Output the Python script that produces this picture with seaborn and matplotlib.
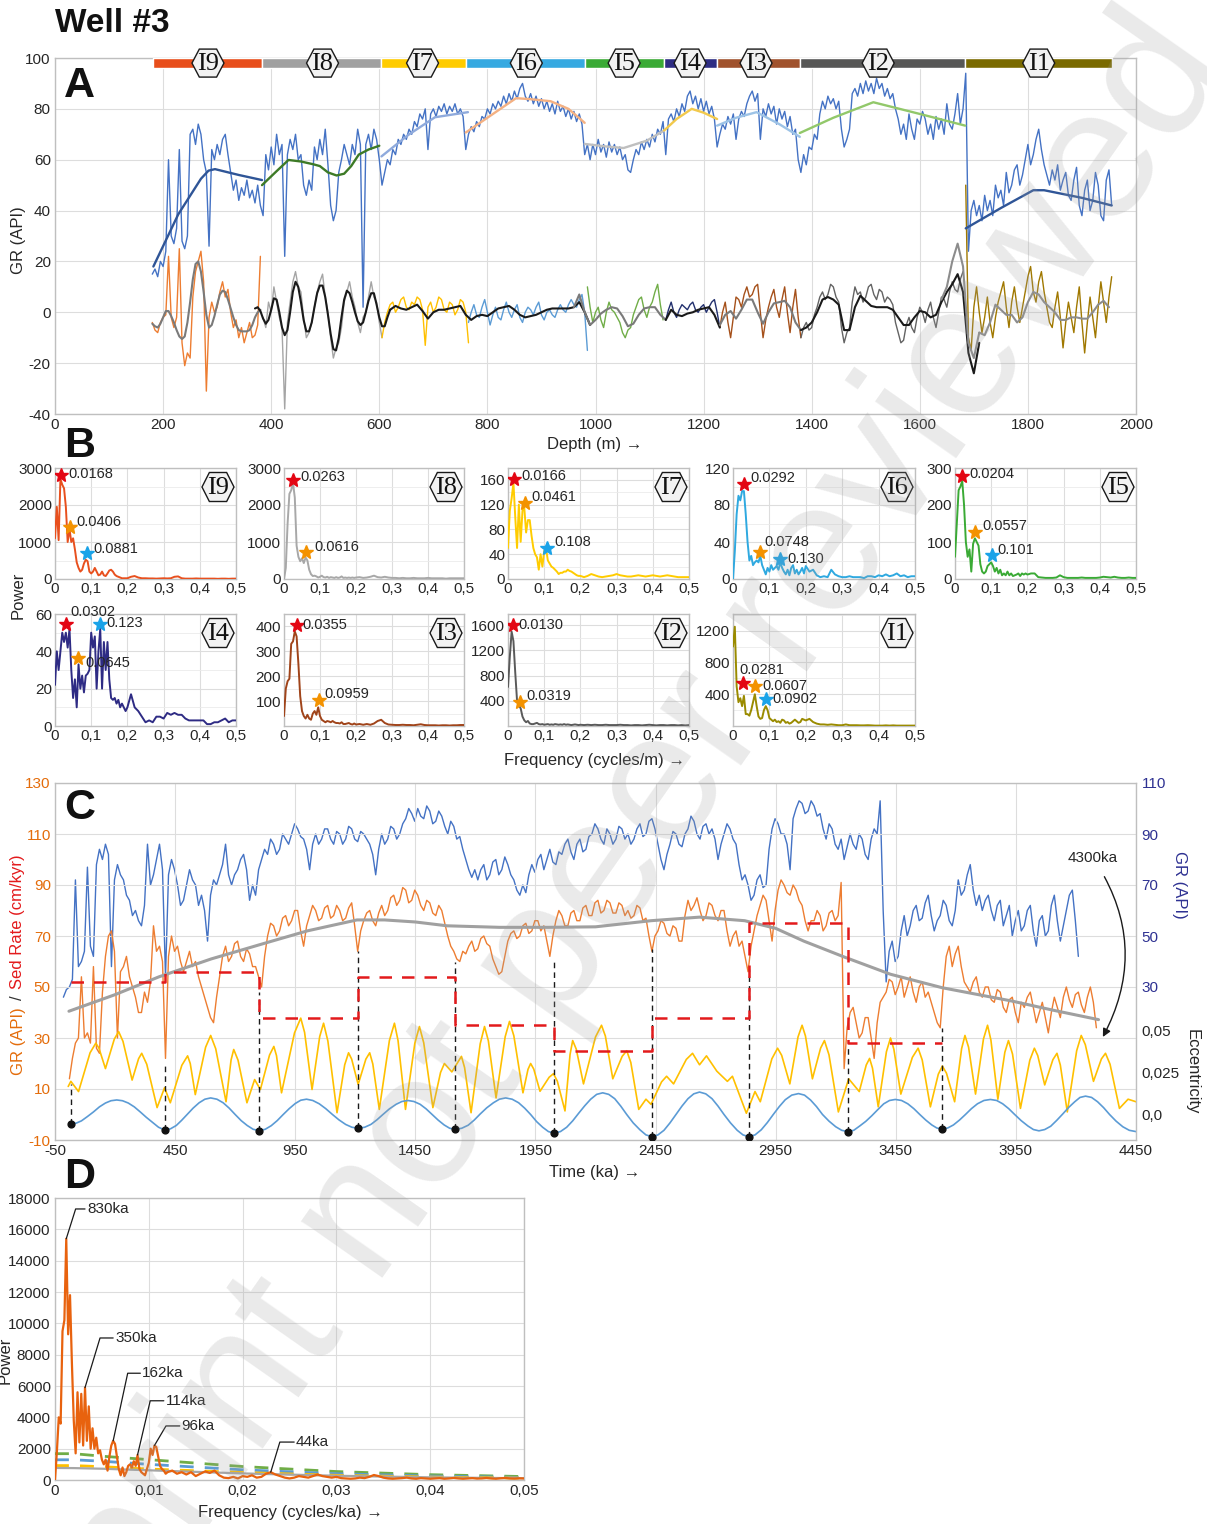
import numpy as np
import matplotlib
matplotlib.use("Agg")
import matplotlib.pyplot as plt
from matplotlib.patches import Polygon
from matplotlib.transforms import ScaledTranslation
import seaborn as sns

sns.set_style("white")
plt.rcParams["font.family"] = ["Liberation Sans", "DejaVu Sans"]
plt.rcParams["axes.unicode_minus"] = False

# ------------------------------------------------------------------
# Intervals I9 ... I1 (depth, m)
# ------------------------------------------------------------------
interval_names = ["I9", "I8", "I7", "I6", "I5", "I4", "I3", "I2", "I1"]
interval_top = [181, 383, 604, 760, 980, 1127, 1225, 1378, 1684]
interval_base = [383, 604, 760, 980, 1127, 1225, 1378, 1684, 1956]
interval_mid = [283, 495, 680, 872, 1053, 1175, 1297, 1523, 1820]
bar_colors = ["#E84E1B", "#A0A0A0", "#FFCC00", "#36A9E1", "#3AAA35",
              "#2E2D83", "#A0522D", "#575756", "#7A6A00"]
resid_colors = ["#ED7D31", "#A5A5A5", "#FFC000", "#5B9BD5", "#70AD47",
                "#22306E", "#A5501A", "#636363", "#A07800"]
spec_colors = ["#E8501E", "#A8A8A8", "#FFCC00", "#2FA9E0", "#3AAA35",
               "#2E2B84", "#A0441A", "#5A5A5A", "#9A8B00"]

# ------------------------------------------------------------------
# Panel A: GR log (API) sampled every 5 m from 180 m
# ------------------------------------------------------------------
gr_start, gr_step = 180, 5
gr_log = [15, 17, 14, 20, 18, 24, 60, 30, 27, 33, 64, 28, 25, 30, 70, 72, 66, 74, 70, 60,
          55, 26, 64, 60, 66, 62, 68, 70, 62, 55, 48, 52, 44, 49, 46, 52, 45, 48, 43, 50,
          42, 38, 62, 56, 65, 58, 70, 62, 66, 22, 62, 68, 64, 70, 60, 62, 50, 46, 52, 48,
          65, 60, 68, 62, 72, 58, 42, 36, 40, 55, 60, 66, 62, 58, 66, 62, 72, 66, 2, 66,
          70, 64, 72, 68, 60, 50, 55, 60, 58, 64, 62, 68, 66, 70, 68, 72, 70, 75, 73, 78,
          76, 80, 64, 78, 80, 77, 81, 79, 82, 78, 81, 79, 82, 78, 80, 77, 64, 70, 73, 71,
          75, 73, 77, 76, 80, 78, 82, 80, 83, 81, 85, 82, 86, 83, 87, 84, 88, 90, 85, 83,
          86, 82, 85, 81, 84, 80, 83, 79, 82, 78, 83, 79, 81, 77, 80, 76, 79, 75, 78, 74,
          62, 66, 60, 66, 62, 68, 63, 66, 61, 67, 63, 66, 62, 65, 60, 62, 56, 55, 60, 64,
          62, 67, 64, 68, 65, 70, 67, 72, 70, 75, 62, 76, 78, 75, 80, 77, 82, 79, 85, 87,
          82, 85, 80, 84, 79, 83, 78, 81, 76, 65, 70, 74, 72, 77, 74, 78, 68, 76, 79, 77,
          82, 85, 87, 83, 86, 68, 80, 77, 82, 78, 81, 74, 80, 76, 79, 73, 77, 70, 72, 60,
          55, 62, 58, 65, 64, 70, 68, 78, 83, 80, 85, 82, 84, 80, 83, 72, 65, 68, 72, 86,
          88, 85, 90, 86, 91, 87, 90, 86, 92, 88, 90, 85, 88, 84, 86, 80, 76, 70, 74, 68,
          78, 72, 68, 76, 74, 79, 76, 70, 74, 68, 77, 72, 76, 70, 82, 74, 72, 78, 86, 74,
          80, 94, 24, 40, 44, 38, 42, 36, 46, 40, 44, 38, 50, 45, 48, 42, 55, 47, 50, 56,
          58, 50, 54, 60, 66, 58, 62, 68, 72, 64, 58, 54, 50, 56, 52, 58, 48, 52, 55, 46,
          44, 52, 57, 42, 38, 48, 52, 40, 44, 55, 50, 38, 36, 52, 56, 42]

# long-term trend of each interval (depth, GR)
trend_i9_d = [182, 228, 270, 284, 296, 340, 383]
trend_i9_v = [18, 38.5, 52.5, 55.7, 56.3, 54, 52]
trend_i8_d = [383, 410, 432, 455, 478, 490, 505, 521, 535, 548, 562, 580, 600]
trend_i8_v = [50, 55.5, 59.9, 59.3, 58.2, 57.5, 55, 53.8, 54.5, 57.5, 62, 64, 65.5]
trend_i7_d = [604, 654, 703, 764]
trend_i7_v = [61.3, 69.8, 76.7, 78.7]
trend_i6_d = [760, 800, 853, 880, 917, 950, 980]
trend_i6_v = [70.7, 76.5, 84.2, 83.8, 83, 80, 74.5]
trend_i5_d = [980, 1020, 1052, 1095, 1127]
trend_i5_v = [66.2, 65.2, 64.6, 67.5, 71.5]
trend_i4_d = [1127, 1150, 1178, 1200, 1225]
trend_i4_v = [71.5, 76, 80, 78.5, 76]
trend_i3_d = [1225, 1260, 1298, 1340, 1378]
trend_i3_v = [73.4, 76.5, 78.7, 74, 69]
trend_i2_d = [1378, 1440, 1514, 1600, 1684]
trend_i2_v = [70.5, 76.5, 82.6, 78, 73.4]
trend_i1_d = [1685, 1750, 1810, 1830, 1900, 1955]
trend_i1_v = [33, 41, 48, 48, 45, 42]
trend_colors = ["#2F5597", "#3D7A26", "#8FAADC", "#F4B183", "#BFBFBF",
                "#F2C94C", "#9DC3E6", "#92C86A", "#2F5597"]

# detrended GR per interval, 5 m spacing from each start depth
resid_start = [180, 385, 605, 765, 985, 1130, 1230, 1380, 1685]
resid_step = 5
resid_i9 = [-4, -7, -8, -4, -2, -1, 22, -2, -6, -2, 25, -12, -21, -16, -18, 6, 16, 20, 24, 12,
            -31, -2, 4, 0, 2, 8, 12, 6, 9, 0, -6, -3, -10, -6, -12, -8, -4, -10, -9, -5, 22]
resid_i8 = [-2, -6, 4, 0, 10, 4, -2, -6, -38, -4, 4, 12, 16, 10, 8, -2, -10, -8, -4, 2,
            8, 12, 15, 6, 0, -10, -18, -14, -12, -6, 4, 8, 12, 6, 2, -4, -8, -2, 0, 6,
            12, 6, 4, -4, -10]
resid_i7 = [-10, -4, 0, 3, 4, 0, 2, 5, 6, 2, 1, 4, 3, 6, 5, 1, -13, 2, 4, 0,
            2, 6, 5, 1, 0, 4, 3, -1, 1, 5, 4, 0, -12]
resid_i6 = [-4, 0, 3, -1, -2, 2, 5, 0, -5, -1, 2, -2, -3, 1, 4, 0, -2, 1, 3, -2,
            -4, 0, 2, 1, -1, 2, 4, -1, -3, 0, 1, -1, -2, 1, 3, 1, 0, 3, 5, 3,
            2, 5, 7, 0, -15]
resid_i5 = [10, 2, -4, 0, 2, -3, -6, 0, 4, 1, 0, -2, -4, -8, -10, -7, -6, -1, 2, 5,
            6, 1, -2, 2, 4, 8, 11, 3, -3]
resid_i4 = [-3, 1, 4, 0, -2, 1, 3, 2, 1, 3, 4, 1, 0, 2, 3, 0, 2, 4, 5, 0, -6]
resid_i3 = [-6, 0, 4, -4, -10, -2, 6, 5, 2, 7, 10, 6, 7, 10, 11, 0, -10, -3, 2, 6,
            9, 2, -2, 5, 10, 0, -8, 2, 9, -2, -10]
resid_i2 = [-10, -6, -4, -7, -6, -1, 2, 6, 8, 5, 7, 11, 10, 6, 4, -6, -12, -8, -6, 4,
            10, 7, 8, 4, 6, 10, 11, 7, 5, 9, 8, 4, 6, 5, 3, -4, -8, -12, -11, -5,
            -2, -6, -8, -2, 2, 0, -4, 1, 4, -2, -6, 0, 6, 5, 2, 8, 12, 9, 8, 13, 16]
resid_i1 = [50, -10, -15, 2, 10, 0, -8, -2, 6, -4, -10, -2, 4, 8, 12, 2, -6, 4, 10, 2,
            -4, 2, 8, 14, 18, 8, 4, 12, 16, 8, 2, -4, -6, 2, 8, -2, -14, -4, 4, -2,
            -8, 2, 10, -4, -16, -4, 6, -2, -10, 2, 12, 4, -4, 6, 14]

# band-pass filtered GR
filt_i9 = [-4.5, -5.5, -6, -4.5, -2, 0.5, 0.5, -1.5, -4, -7, -9.5, -10.5, -9.5, -4, 4, 13,
           19, 20, 16, 8, -1, -6, -5, -1.5, 3, 7, 8.5, 8, 5, 1.5, -2, -5, -7, -7.5, -7.5,
           -7.5, -7, -5, -2, 0, 1]
filt_i8 = [1.5, 2, 0.5, -2.5, -4.5, -3, 1, 5.5, 5, 0, -6, -9, -7, 0, 8, 12, 10, 4, -3, -7.5,
           -7.5, -4, 2, 7.5, 10.5, 10.5, 6, -1, -8.5, -14.5, -15, -10, -2, 5, 8.5, 7.5, 4, 0,
           -3.5, -5, -4, 0, 4.5, 7.5, 7.5, 3, -2, -5.5, -5.5, -2, 1]
filt_i7_i6 = [1, 2.5, 1.5, 1, 2, 3, 0.5, -2.5, 0, 1, 1, 1.5, 2, 2.5, -1, -3, -1.5, -1, -1.5,
              0, 1.5, 2, 2.5, 1, -1, -2, -1.5, -1, 0, 1, 1.5, 1.5, 1.5, 1.5, 2, 4, 0, -5]
filt_i5 = [2, 7, 0, -5, -3, -0.5, 1, 2, 1.5, -1.5, -5.5, -4.5, -1, 1.5, 2, 2, -1, -3]
filt_i4 = [-3, 1, -1, -1.5, -0.5, 0, 1, 1.5, 2, -1, -6]
filt_i3 = [-5, -1, 0.5, -2.5, 1, 5, 5, 0, -4.5, 0, 3.5, 4, 4.5, 2, -4, -7]
filt_i2 = [-7, -6, -4, 0, 5, 6, 5, 3, -7, -7, 2, 6.5, 4.5, 2.5, 2, 2, 2, 1, -2, -5, -5, -2,
           0.5, 0, -2, -1, 4, 8, 11, 15, 8, -16, -24, -12]
filt_i2_alt = [5, 10, 20, 27, 18, -12, -18, -8]
filt_i1 = [-8, -9, -4, 3, 1, -1, -1, -4, -2, 4, 8, 7, 4, 2, 0, -3, -3, -2, -2, -2.5, -2.5,
           0, 3, 4.5, 2]
filt_start = [180, 370, 620, 960, 1130, 1230, 1380, 1640, 1710]
filt_step = [5, 5, 10, 10, 10, 10, 10, 10, 10]
filt_colors = ["#7A7A7A", "#1A1A1A", "#1A1A1A", "#7A7A7A", "#1A1A1A", "#7A7A7A",
               "#1A1A1A", "#8C8C8C", "#8C8C8C"]

a_xticks = [0, 200, 400, 600, 800, 1000, 1200, 1400, 1600, 1800, 2000]
a_yticks = [-40, -20, 0, 20, 40, 60, 80, 100]

# ------------------------------------------------------------------
# Panel B: power spectra (cycles/m)
# ------------------------------------------------------------------
spec_i9 = [1100, 1950, 1050, 2700, 2550, 2450, 1950, 1000, 1350, 1000, 1100, 800, 450, 300,
           200, 250, 420, 520, 480, 200, 150, 200, 300, 200, 100, 120, 200, 100, 80, 150, 230,
           250, 200, 120, 80, 60, 40, 20, 20, 20,
           20, 60, 80, 40, 20, 20, 15, 15, 10, 15, 20, 15, 20, 60, 70, 20, 10, 10, 10, 15, 10,
           10, 10, 10, 10, 5, 10, 10, 5, 10, 10]
spec_i8 = [0, 300, 1500, 2300, 2400, 2600, 2200, 900, 600, 480, 560, 430, 580, 500, 250, 130,
           80, 90, 70, 40, 60, 90, 50, 40, 60, 30, 50, 40, 30, 50, 30, 40, 70, 30, 40, 30, 40,
           30, 40, 30,
           40, 50, 30, 40, 60, 90, 50, 40, 60, 40, 30, 30, 20, 30, 20, 20, 30, 20, 20, 20, 30,
           20, 20, 20, 20, 10, 20, 20, 20, 20, 20]
spec_i7 = [50, 110, 130, 155, 100, 50, 120, 60, 110, 115, 75, 95, 95, 70, 50, 40, 35, 15, 40,
           20, 45, 50, 30, 25, 20, 18, 15, 12, 8, 10, 10, 12, 12, 15, 13, 12, 10, 8, 6, 5,
           5, 3, 5, 8, 6, 4, 3, 4, 5, 6, 8, 6, 5, 4, 4, 5, 6, 5, 4, 5, 6, 5, 4, 5, 6, 5, 4, 3,
           3, 3, 3]
spec_i6 = [0, 30, 70, 90, 85, 95, 95, 70, 40, 20, 25, 15, 18, 20, 18, 25, 15, 10, 5, 12, 8,
           15, 10, 12, 14, 10, 18, 12, 8, 5, 10, 4, 12, 15, 6, 10, 5, 8, 12, 6,
           14, 8, 10, 4, 2, 3, 2, 10, 5, 3, 2, 2, 3, 2, 2, 2, 1, 3, 3, 2, 4, 3, 5, 3, 4, 6, 3,
           4, 2, 3, 3]
spec_i5 = [60, 150, 240, 250, 265, 200, 100, 60, 80, 20, 95, 110, 100, 90, 40, 20, 15, 20, 35,
           40, 45, 35, 20, 30, 15, 25, 10, 15, 10, 20, 10, 15, 8, 10, 12, 15, 8, 15, 12, 15,
           12, 15, 15, 5, 4, 3, 3, 3, 4, 10, 5, 3, 3, 3, 3, 4, 3, 3, 3, 3, 4, 6, 5, 4, 6, 4, 3,
           3, 4, 3, 3]
spec_i4 = [22, 40, 30, 40, 50, 45, 50, 42, 52, 30, 15, 25, 10, 33, 20, 27, 18, 27, 28, 30, 50,
           42, 48, 20, 40, 52, 20, 45, 30, 45, 25, 15, 14, 15, 12, 14, 10, 12, 10, 8,
           10, 17, 10, 8, 5, 2, 3, 2, 5, 5, 4, 7, 6, 7, 6, 6, 4, 3, 3, 3, 3, 3, 1, 1, 2, 2, 3,
           4, 2, 3, 3]
spec_i3 = [40, 150, 180, 190, 330, 340, 380, 360, 250, 120, 60, 40, 30, 45, 30, 25, 50, 60, 45,
           75, 40, 25, 20, 15, 20, 18, 15, 20, 15, 12, 12, 10, 15, 8, 8, 10, 12, 8, 6, 10,
           6, 8, 5, 8, 5, 10, 20, 25, 12, 6, 5, 4, 4, 5, 4, 4, 3, 5, 7, 4, 3, 3, 3, 2, 3, 3, 2,
           3, 3, 4, 4]
spec_i2 = [620, 1100, 1500, 1350, 850, 400, 330, 280, 150, 90, 60, 80, 40, 30, 30, 40, 50, 30,
           25, 30, 20, 25, 30, 20, 25, 20, 30, 25, 20, 25, 20, 30, 20, 25, 20, 15, 20, 25, 20,
           15,
           20, 15, 20, 15, 20, 15, 15, 20, 15, 15, 15, 20, 15, 15, 10, 15, 15, 10, 15, 20, 15,
           10, 15, 15, 10, 15, 15, 10, 15, 10, 15]
spec_i1 = [1000, 1250, 500, 300, 350, 250, 380, 150, 150, 130, 200, 300, 400, 250, 120, 90,
           100, 200, 250, 200, 100, 80, 60, 80, 50, 60, 40, 80, 70, 40, 50, 30, 40, 60, 80, 60,
           40, 50, 90, 80,
           70, 90, 50, 30, 20, 20, 15, 20, 15, 10, 10, 20, 10, 10, 10, 8, 8, 10, 8, 5, 5, 5, 8,
           5, 8, 5, 5, 5, 5, 5, 5]

star_text = [["0.0168", "0.0406", "0.0881"], ["0.0263", "0.0616"],
             ["0.0166", "0.0461", "0.108"], ["0.0292", "0.0748", "0.130"],
             ["0.0204", "0.0557", "0.101"], ["0.0302", "0.0645", "0.123"],
             ["0.0355", "0.0959"], ["0.0130", "0.0319"],
             ["0.0281", "0.0607", "0.0902"]]
star_power = [[2800, 1400, 700], [2670, 720], [161, 123, 50], [103, 29, 22],
              [279, 127, 64], [54.6, 36.5, 54.6], [407, 106], [1600, 381], [545, 503, 338]]
star_offset = [[(5, 1), (5, 4), (5, 3)], [(5, 2), (6, 4)], [(5, 2), (5, 4), (5, 4)],
               [(5, 4), (3, 7), (5, 0)], [(5, 1), (5, 4), (4, 4)],
               [(3, 9), (5, -4), (5, 1)], [(4, 0), (4, 4)], [(4, 0), (5, 4)],
               [(-3, 9), (5, 0), (5, 0)]]
star_colors = ["#E30613", "#F39200", "#1AA3E8"]
b_ymax = [3000, 3000, 179, 120, 300, 60, 450, 1780, 1410]
b_yticks = [[0, 1000, 2000, 3000], [0, 1000, 2000, 3000], [0, 40, 80, 120, 160],
            [0, 40, 80, 120], [0, 100, 200, 300], [0, 20, 40, 60],
            [100, 200, 300, 400], [400, 800, 1200, 1600], [400, 800, 1200]]
b_minor = [500, 500, 20, 20, 50, 10, 50, 200, 200]
b_xticks = [0, 0.1, 0.2, 0.3, 0.4, 0.5]
b_xlabels = ["0", "0,1", "0,2", "0,3", "0,4", "0,5"]

# ------------------------------------------------------------------
# Panel C: time domain (ka)
# ------------------------------------------------------------------
gr_time_start, gr_time_step = -15, 12.5        # GR (API), right axis
gr_time = [26, 29, 30, 33, 72, 38, 40, 44, 77, 46, 42, 78, 84, 80, 86, 82, 38, 72, 78, 74,
           72, 66, 64, 58, 60, 56, 54, 62, 86, 70, 74, 80, 86, 76, 34, 74, 80, 76, 70, 62,
           64, 70, 76, 72, 70, 62, 66, 60, 48, 66, 72, 70, 74, 78, 86, 74, 70, 74, 76, 80,
           82, 76, 64, 70, 66, 76, 80, 84, 82, 88, 86, 82, 84, 90, 88, 86, 90, 94, 92, 89,
           88, 84, 76, 86, 90, 86, 88, 92, 92, 88, 86, 91, 90, 86, 88, 93, 92, 88, 87, 91,
           90, 88, 86, 82, 74, 84, 90, 86, 88, 93, 92, 88, 90, 94, 96, 100, 98, 95, 100, 97,
           96, 101, 99, 94, 95, 99, 97, 93, 90, 95, 93, 88, 89, 84, 80, 76, 73, 76, 72, 76,
           78, 72, 74, 79, 80, 74, 76, 81, 78, 74, 72, 68, 66, 70, 67, 74, 78, 75, 80, 82,
           76, 80, 84, 79, 78, 83, 82, 86, 88, 83, 80, 86, 88, 83, 84, 89, 90, 94, 92, 88,
           86, 92, 90, 86, 88, 93, 92, 88, 90, 86, 88, 92, 94, 89, 90, 95, 96, 92, 86, 80,
           76, 82, 86, 91, 90, 86, 85, 90, 92, 97, 95, 90, 88, 93, 94, 90, 92, 88, 80, 86,
           90, 94, 92, 88, 86, 78, 72, 74, 70, 64, 66, 72, 74, 69, 70, 84, 92, 96, 94, 90,
           90, 86, 76, 96, 100, 103, 102, 98, 99, 103, 101, 97, 98, 92, 88, 94, 92, 86, 84, 88,
           80, 85, 90, 86, 84, 90, 88, 82, 80, 88, 92, 90, 103, 60, 32, 44, 48, 40, 42, 52,
           58, 50, 54, 60, 62, 56, 57, 63, 66, 58, 52, 56, 58, 64, 62, 56, 54, 60, 72, 66,
           68, 74, 78, 68, 62, 66, 60, 64, 66, 60, 56, 62, 64, 54, 58, 62, 50, 56, 60, 52,
           54, 60, 62, 52, 46, 56, 58, 50, 52, 62, 66, 56, 48, 54, 60, 66, 68, 56, 42]
grl_time_start, grl_time_step = 10, 12.5       # GR (API), left axis
grl_time = [14, 22, 28, 30, 54, 30, 32, 28, 58, 26, 24, 48, 62, 70, 72, 64, 30, 56, 58, 62,
            54, 50, 46, 40, 40, 48, 44, 52, 74, 64, 66, 60, 22, 62, 70, 64, 66, 60, 56, 60,
            64, 58, 60, 54, 50, 46, 42, 38, 36, 46, 54, 62, 66, 60, 62, 67, 68, 62, 60, 65,
            63, 58, 58, 54, 50, 62, 70, 75, 74, 70, 72, 77, 78, 74, 76, 80, 80, 72, 66, 74,
            78, 82, 80, 76, 77, 81, 82, 77, 78, 82, 80, 76, 77, 81, 83, 74, 64, 72, 76, 79,
            80, 76, 74, 79, 82, 78, 80, 85, 86, 82, 84, 89, 88, 83, 84, 88, 86, 82, 80, 84,
            83, 79, 78, 82, 80, 75, 70, 66, 64, 61, 60, 64, 63, 66, 68, 64, 65, 69, 70, 67,
            66, 61, 58, 55, 56, 62, 68, 71, 72, 69, 70, 74, 75, 71, 72, 76, 76, 72, 74, 68,
            62, 70, 76, 80, 78, 74, 74, 79, 80, 76, 76, 81, 82, 78, 78, 83, 84, 79, 80, 84,
            83, 79, 79, 83, 82, 78, 80, 77, 78, 82, 81, 76, 77, 70, 64, 70, 72, 76, 75, 71,
            70, 74, 73, 68, 68, 78, 84, 80, 82, 85, 80, 76, 78, 83, 82, 78, 76, 80, 80, 72,
            66, 70, 72, 66, 68, 62, 56, 66, 72, 78, 82, 86, 84, 76, 68, 80, 88, 92, 90, 87,
            86, 90, 88, 84, 82, 76, 72, 76, 76, 80, 78, 72, 74, 79, 80, 76, 78, 91, 18, 34,
            40, 42, 36, 30, 32, 38, 38, 30, 22, 36, 44, 46, 48, 53, 52, 47, 50, 54, 46, 50,
            54, 48, 44, 50, 52, 46, 48, 44, 40, 36, 34, 50, 62, 66, 58, 63, 66, 58, 52, 50,
            48, 52, 54, 48, 46, 50, 50, 45, 44, 49, 48, 42, 40, 45, 46, 40, 36, 44, 42, 46,
            48, 42, 36, 40, 44, 38, 32, 40, 46, 42, 38, 46, 50, 45, 42, 47, 48, 43, 40, 46,
            50, 44, 34]
trend_c_t = [8, 200, 383, 600, 817, 1000, 1207, 1322, 1450, 1582, 1800, 2000, 2200, 2431,
             2633, 2821, 2950, 3067, 3240, 3428, 3644, 3933, 4100, 4294]
trend_c_v = [40.5, 47, 54, 61, 67, 72, 76.3, 76.3, 75.5, 74, 73.4, 73.4, 73.6, 76, 77.4, 76,
             73, 68, 61.6, 55, 49.7, 44.5, 41, 37.2]
# eccentricity (scaled to the left axis), (ka, value)
ecc_curve = [(5, 11), (16, 13), (48, 9), (96, 24.2), (120, 28), (133, 26), (160, 18),
             (197, 29.6), (215, 32.5), (233, 28.7), (271, 13.5), (298, 21.9), (311, 24),
             (332, 19.7), (375, 2.7), (406, 10.5), (430, 4.6), (478, 19.3), (502, 23),
             (513, 20), (534, 7.8), (577, 26.4), (598, 31), (619, 25.8), (662, 5),
             (683, 21.4), (694, 25.5), (712, 21.3), (749, 4.6), (781, 13.7), (805, 9.8),
             (843, 23.3), (861, 26.7), (872, 23.1), (893, 8.5), (947, 32), (973, 37.8),
             (989, 32.2), (1020, 9.8), (1052, 30.6), (1068, 35.8), (1086, 28.8), (1124, 0.7),
             (1156, 19.5), (1172, 24.2), (1185, 21.7), (1212, 11.8), (1244, 21.7),
             (1260, 24.2), (1273, 19.8), (1300, 2), (1342, 29), (1363, 35.8), (1378, 29),
             (1409, 2), (1448, 28), (1467, 34.5), (1485, 28.1), (1523, 2.7), (1555, 16.5),
             (1571, 20), (1602, 16.7), (1642, 22.8), (1655, 18.4), (1682, 0.7), (1720, 27.7),
             (1738, 34.5), (1754, 28.9), (1786, 6.5), (1824, 30.5), (1842, 36.5),
             (1860, 30.9), (1898, 8.5), (1919, 17.7), (1930, 20), (1943, 17.8), (1969, 9.1),
             (2007, 14.6), (2025, 16), (2041, 13.1), (2073, 1.4), (2094, 23.5), (2105, 29),
             (2120, 25.6), (2150, 12), (2200, 30.4), (2225, 35), (2241, 30.8), (2272, 14),
             (2311, 22.8), (2330, 25), (2347, 20.4), (2380, 2), (2410, 6), (2431, 4),
             (2475, 12.8), (2496, 15), (2525, 12), (2578, 21.6), (2604, 24), (2633, 19.5),
             (2662, 23), (2705, 17), (2749, 13), (2770, 15), (2828, 0.5), (2864, 9),
             (2886, 5), (2934, 21.8), (2958, 26), (2975, 23.2), (3009, 12), (3043, 30.4),
             (3060, 35), (3074, 30.8), (3103, 14), (3137, 26), (3153, 29), (3172, 23.4),
             (3211, 1), (3254, 14), (3298, 9), (3327, 19.4), (3341, 22), (3353, 18.2),
             (3377, 3), (3411, 24.6), (3428, 30), (3442, 25.6), (3471, 8), (3519, 22.4),
             (3543, 26), (3560, 21.4), (3594, 3), (3627, 15.8), (3644, 19), (3661, 16.2),
             (3695, 5), (3724, 25.8), (3738, 31), (3753, 26.4), (3782, 8), (3815, 29.6),
             (3832, 35), (3846, 29.2), (3875, 6), (3904, 24.4), (3919, 29), (3936, 23.7),
             (3969, 2.4), (4008, 21.3), (4027, 26), (4041, 23.1), (4070, 11.6), (4104, 21.5),
             (4121, 24), (4135, 19.4), (4164, 1), (4203, 25), (4222, 31), (4239, 27.4),
             (4273, 13), (4306, 21.8), (4323, 24), (4342, 19.7), (4381, 2.4), (4417, 6),
             (4450, 5)]
# 405-ka eccentricity component, (ka, value)
e405_curve = [(16, -3.8), (38, -3.4), (60, -2.5), (85, -0.8), (110, 1), (135, 3), (160, 4.5),
              (183, 5.4), (207, 5.7), (231, 5.4), (255, 4.5), (280, 3), (305, 1),
              (330, -1.1), (355, -3), (381, -5), (407, -6.1), (431, -5.6), (455, -4.3),
              (477, -2.3), (500, 0), (525, 2.5), (550, 4.6), (574, 6), (598, 6.5), (624, 6),
              (650, 4.6), (675, 2.5), (700, 0), (725, -2.4), (750, -4.3), (775, -5.8),
              (800, -6.3), (825, -5.8), (850, -4.4), (875, -2.4), (900, 0), (925, 2.3),
              (950, 4.3), (973, 5.6), (997, 6), (1023, 5.5), (1050, 4.2), (1077, 2.3),
              (1105, 0), (1132, -2.1), (1160, -3.9), (1186, -5), (1213, -5.4), (1239, -5),
              (1265, -3.9), (1290, -2.1), (1315, 0), (1342, 2.2), (1370, 4), (1394, 5.1),
              (1419, 5.5), (1444, 5.1), (1470, 4), (1495, 2.2), (1520, 0), (1545, -2.2),
              (1570, -4.1), (1593, -5.4), (1617, -5.8), (1643, -5.4), (1670, -4.2),
              (1695, -2.2), (1720, 0.2), (1747, 2.6), (1775, 4.6), (1800, 6), (1826, 6.5),
              (1853, 6), (1880, 4.6), (1905, 2.5), (1930, 0), (1955, -2.8), (1980, -5),
              (2004, -6.7), (2028, -7.3), (2054, -6.7), (2080, -5), (2105, -2.5),
              (2130, 0.5), (2155, 3.4), (2180, 6), (2205, 7.9), (2230, 8.5), (2255, 7.9),
              (2280, 6.2), (2305, 3.3), (2330, 0), (2357, -3.3), (2385, -6), (2410, -8),
              (2435, -8.7), (2460, -8), (2485, -6.2), (2510, -3.3), (2535, 0), (2560, 3.3),
              (2585, 6.2), (2609, 8.1), (2633, 8.8), (2659, 8.1), (2685, 6.2), (2710, 3.3),
              (2735, 0), (2762, -3.3), (2790, -6.2), (2814, -8), (2838, -8.7), (2864, -8),
              (2890, -6), (2915, -3.2), (2940, 0), (2965, 3.1), (2990, 5.8), (3017, 7.6),
              (3045, 8.2), (3070, 7.6), (3095, 5.7), (3120, 3.1), (3145, 0), (3172, -2.6),
              (3200, -4.8), (3225, -6.2), (3250, -6.7), (3275, -6.2), (3300, -4.5),
              (3325, -2.7), (3350, -0.5), (3375, 1.9), (3400, 4.2), (3424, 5.5), (3448, 5.9),
              (3474, 5.5), (3500, 4.2), (3525, 2.3), (3550, 0), (3575, -2.2), (3600, -4.1),
              (3621, -5.3), (3642, -5.7), (3666, -5.3), (3690, -4.1), (3715, -2.2),
              (3740, 0), (3765, 2.3), (3790, 4.2), (3817, 5.5), (3844, 5.9), (3870, 5.5),
              (3895, 4.2), (3920, 2.3), (3945, 0), (3972, -2.4), (4000, -4.5), (4023, -5.9),
              (4046, -6.4), (4070, -5.9), (4095, -4.6), (4120, -2.3), (4145, 0.2),
              (4170, 2.8), (4195, 5), (4217, 6.7), (4240, 7.2), (4265, 6.7), (4290, 5),
              (4315, 2.7), (4340, 0), (4367, -2.6), (4395, -4.8), (4422, -6.2), (4450, -6.7)]
e405_minima = [16, 407, 800, 1213, 1617, 2028, 2435, 2838, 3250, 3642]
minima_link_top = [12, 20, 48, 64, 60, 60, 65, 57, 27, 34]
sed_rate = [52, 56, 38, 54, 35, 25, 38, 75, 28]
c_xticks = [-50, 450, 950, 1450, 1950, 2450, 2950, 3450, 3950, 4450]
c_yticks = [-10, 10, 30, 50, 70, 90, 110, 130]
c_gr_ticks = [30, 50, 70, 90, 110]
c_ecc_ticks = [0.0, 0.025, 0.05]
c_ecc_labels = ["0,0", "0,025", "0,05"]
ecc_per_unit = 1 / 662.0

# ------------------------------------------------------------------
# Panel D: spectrum of the time series (cycles/ka)
# ------------------------------------------------------------------
spec_d_low = [0, 1800, 4000, 3600, 9500, 10200, 15400, 9300, 11800, 7500,
              3800, 1700, 5600, 2400, 5500, 2200, 5900, 2500, 4700, 2000,
              3300, 2000, 2700, 1700, 1900, 1300, 1000, 1300, 600, 1500,
              2200, 2500, 2300, 1500, 700, 300, 800, 250, 500, 900,
              1000, 800, 1200, 900, 1600, 700, 500, 400, 300, 700,
              1100, 2000, 1600, 2200, 2100, 1500, 900, 700, 600, 400,
              500]                       # 0 ... 0.012 every 0.0002
spec_d_high = [600, 400, 500, 350, 500, 250, 400, 550, 450, 600,
               300, 150, 120, 200, 100, 250, 200, 300, 150, 200,
               400, 500, 350, 250, 150, 100, 150, 250, 200, 150,
               250, 350, 250, 200, 150, 200, 120, 100, 80, 100,
               150, 120, 200, 320, 250, 150, 100, 80, 100, 120,
               150, 100, 80, 120, 100, 80, 100, 120, 80, 100,
               130, 100, 80, 100, 120, 90, 100, 130, 100, 80,
               110, 130, 100, 90, 110, 100]   # 0.0125 ... 0.05 every 0.0005
conf_f = [0, 0.002, 0.005, 0.01, 0.02, 0.03, 0.04, 0.05]
conf_green = [1680, 1680, 1520, 1300, 860, 540, 340, 220]
conf_blue = [1290, 1290, 1200, 1000, 650, 400, 250, 160]
conf_yellow = [920, 920, 850, 700, 480, 300, 190, 120]
conf_gray = [770, 760, 720, 620, 420, 270, 170, 110]
d_labels = ["830ka", "350ka", "162ka", "114ka", "96ka", "44ka"]
d_peak_f = [0.0012, 0.0032, 0.0062, 0.0088, 0.0106, 0.0230]
d_elbow_f = [0.0022, 0.0048, 0.00775, 0.01015, 0.01183, 0.02397]
d_elbow_p = [17300, 9065, 6815, 5057, 3450, 2421]
d_text_f = [0.0032, 0.0062, 0.0091, 0.0116, 0.0133, 0.0255]
d_xticks = [0, 0.01, 0.02, 0.03, 0.04, 0.05]
d_xlabels = ["0", "0,01", "0,02", "0,03", "0,04", "0,05"]
d_yticks = list(range(0, 18001, 2000))

# ------------------------------------------------------------------
# figure helpers
# ------------------------------------------------------------------
W, H = 1207, 1524
fig = plt.figure(figsize=(W / 100, H / 100), dpi=100)
TXT = "#262626"


def add_ax(l, t, r, b):
    return fig.add_axes([l / W, 1 - b / H, (r - l) / W, (b - t) / H])


def ftext(x, y, s, **kw):
    kw.setdefault("color", TXT)
    return fig.text(x / W, 1 - y / H, s, **kw)


def sline(ax, x, y, color, lw=1.0, z=2, **kw):
    sns.lineplot(x=np.asarray(x, float), y=np.asarray(y, float), ax=ax, color=color,
                 linewidth=lw, legend=False, sort=False, estimator=None, errorbar=None,
                 zorder=z, **kw)


def style(ax, xt, xl, yt, yl, color=TXT, size=11, pad=3):
    ax.set_xticks(xt)
    ax.set_xticklabels(xl)
    ax.set_yticks(yt)
    ax.set_yticklabels(yl)
    ax.tick_params(axis="both", which="both", length=0, labelsize=size, pad=pad,
                   labelcolor=color)
    for sp in ax.spines.values():
        sp.set_color("#BFBFBF")
        sp.set_linewidth(1.0)
    ax.grid(True, which="major", color="#DDDDDD", linewidth=0.8)
    ax.set_axisbelow(True)
    ax.set_xlabel("")
    ax.set_ylabel("")


HEX = [(-0.5, 0), (-0.27, 0.5), (0.27, 0.5), (0.5, 0), (0.27, -0.5), (-0.27, -0.5)]


def hex_badge(base, x, y, label, dx=0.0, dy=0.0, w=32, h=28, fs=19):
    tr = fig.dpi_scale_trans + ScaledTranslation(x, y, base)
    verts = [((dx + px * w) / 100.0, (dy + py * h) / 100.0) for px, py in HEX]
    fig.add_artist(Polygon(verts, closed=True, transform=tr, facecolor="#F2F2F2",
                           edgecolor="#1A1A1A", linewidth=1.0, zorder=8))
    fig.text(dx / 100.0, (dy - 1) / 100.0, label, transform=tr, ha="center", va="center",
             fontsize=fs, family=["Liberation Serif", "DejaVu Serif"], color="#111111",
             zorder=9)


def series_x(start, step, values):
    return start + step * np.arange(len(values))


# ------------------------------------------------------------------
# Panel A
# ------------------------------------------------------------------
axA = add_ax(55, 58, 1136, 414)
sline(axA, series_x(gr_start, gr_step, gr_log), gr_log, "#4472C4", lw=1.0, z=2)

trend_d = [trend_i9_d, trend_i8_d, trend_i7_d, trend_i6_d, trend_i5_d,
           trend_i4_d, trend_i3_d, trend_i2_d, trend_i1_d]
trend_v = [trend_i9_v, trend_i8_v, trend_i7_v, trend_i6_v, trend_i5_v,
           trend_i4_v, trend_i3_v, trend_i2_v, trend_i1_v]
for d, v, c in zip(trend_d, trend_v, trend_colors):
    sline(axA, d, v, c, lw=1.7, z=3)

resid_all = [resid_i9, resid_i8, resid_i7, resid_i6, resid_i5,
             resid_i4, resid_i3, resid_i2, resid_i1]
for s, v, c in zip(resid_start, resid_all, resid_colors):
    sline(axA, series_x(s, resid_step, v), v, c, lw=1.0, z=2)

filt_all = [filt_i9, filt_i8, filt_i7_i6, filt_i5, filt_i4, filt_i3, filt_i2,
            filt_i2_alt, filt_i1]
for s, st, v, c in zip(filt_start, filt_step, filt_all, filt_colors):
    sline(axA, series_x(s, st, v), v, c, lw=1.5, z=4)

for top, base, c in zip(interval_top, interval_base, bar_colors):
    axA.broken_barh([(top, base - top)], (96.1, 3.9), facecolors=c, zorder=5)

axA.set_xlim(0, 2000)
axA.set_ylim(-40, 100)
style(axA, a_xticks, [str(t) for t in a_xticks], a_yticks, [str(t) for t in a_yticks])
for name, mid in zip(interval_names, interval_mid):
    hex_badge(axA.transData, mid, 98, name)

ftext(55, 23, "Well #3", fontsize=24, fontweight="bold", va="center", ha="left",
      color="#111111")
ftext(64, 86, "A", fontsize=31, fontweight="bold", va="center", ha="left", color="#111111")
ftext(18, 240, "GR (API)", fontsize=12, rotation=90, ha="center", va="center")
ftext(595, 444, "Depth (m) \u2192", fontsize=12, ha="center", va="center")

# ------------------------------------------------------------------
# Panel B
# ------------------------------------------------------------------
spectra = [spec_i9, spec_i8, spec_i7, spec_i6, spec_i5, spec_i4, spec_i3, spec_i2, spec_i1]
freq_b = np.concatenate([0.005 * np.arange(40), 0.2 + 0.01 * np.arange(31)])
b_boxes = [(55, 468, 236, 579), (284, 468, 464, 579), (508, 468, 689, 579),
           (733, 468, 915, 579), (955, 468, 1136, 579), (55, 614, 236, 726),
           (284, 614, 464, 726), (508, 614, 689, 726), (733, 614, 915, 726)]
for k, box in enumerate(b_boxes):
    ax = add_ax(*box)
    sline(ax, freq_b, spectra[k], spec_colors[k], lw=1.4, z=3)
    for j, txt in enumerate(star_text[k]):
        f = float(txt)
        p = star_power[k][j]
        ax.plot([f], [p], marker="*", ms=10, color=star_colors[j], mec=star_colors[j],
                ls="none", zorder=6)
        ax.annotate(txt, xy=(f, p), xytext=star_offset[k][j], textcoords="offset points",
                    fontsize=10.5, ha="left", va="center", color=TXT, zorder=7)
    ax.set_xlim(0, 0.5)
    ax.set_ylim(0, b_ymax[k])
    style(ax, b_xticks, b_xlabels, b_yticks[k], [str(t) for t in b_yticks[k]], pad=2)
    ax.set_yticks(np.arange(b_minor[k], b_ymax[k], b_minor[k]), minor=True)
    ax.grid(True, which="minor", axis="y", color="#EBEBEB", linewidth=0.6)
    hex_badge(ax.transAxes, 1, 1, interval_names[k], dx=-18, dy=-19, w=32, h=29)

ftext(64, 446, "B", fontsize=31, fontweight="bold", va="center", ha="left", color="#111111")
ftext(18, 595, "Power", fontsize=12, rotation=90, ha="center", va="center")
ftext(595, 760, "Frequency (cycles/m) \u2192", fontsize=12, ha="center", va="center")

# ------------------------------------------------------------------
# Panel C
# ------------------------------------------------------------------
axC = add_ax(55, 783, 1136, 1140)
axC_gr = axC.twinx()
axC_ecc = axC.twinx()
axC_gr.set_zorder(1)
axC.set_zorder(2)
axC_ecc.set_zorder(0)
axC.patch.set_visible(False)

ecc_t, ecc_v = zip(*ecc_curve)
e405_t, e405_v = zip(*e405_curve)
sline(axC_gr, series_x(gr_time_start, gr_time_step, gr_time), gr_time, "#4472C4", lw=1.0)
sline(axC, series_x(grl_time_start, grl_time_step, grl_time), grl_time, "#ED7D31", lw=1.0,
      z=2)
sline(axC, trend_c_t, trend_c_v, "#A0A0A0", lw=2.2, z=3)
sline(axC, ecc_t, ecc_v, "#FFC000", lw=1.2, z=2)
sline(axC, e405_t, e405_v, "#5B9BD5", lw=1.2, z=2)

e405_lookup = dict(e405_curve)
dot_v = [e405_lookup[t] for t in e405_minima]
axC.vlines(e405_minima, dot_v, minima_link_top, colors="#1A1A1A", linestyles=(0, (4, 3)),
           linewidth=1.0, zorder=4)
axC.plot(e405_minima, sed_rate + [sed_rate[-1]], drawstyle="steps-post", color="#E31A1C",
         lw=1.8, ls=(0, (5, 4)), zorder=5)
axC.scatter(e405_minima, dot_v, s=24, color="#111111", zorder=6)

axC.set_xlim(-50, 4450)
axC.set_ylim(-10, 130)
style(axC, c_xticks, [str(t) for t in c_xticks], c_yticks, [str(t) for t in c_yticks])
axC.tick_params(axis="y", labelcolor="#E46C0A")
axC.tick_params(axis="x", labelcolor=TXT)

axC_gr.set_ylim(-30, 110)
axC_gr.set_yticks(c_gr_ticks)
axC_gr.set_yticklabels([str(t) for t in c_gr_ticks])
axC_gr.tick_params(axis="y", length=0, labelsize=11, pad=4, labelcolor="#2E3192")
axC_ecc.set_ylim(-10 * ecc_per_unit, 130 * ecc_per_unit)
axC_ecc.set_yticks(c_ecc_ticks)
axC_ecc.set_yticklabels(c_ecc_labels)
axC_ecc.tick_params(axis="y", length=0, labelsize=11, pad=4, labelcolor=TXT)
for a in (axC_gr, axC_ecc):
    for sp in a.spines.values():
        sp.set_visible(False)
    a.grid(False)

axC.annotate("4300ka", xy=(4312, 30.4), xytext=(4271, 100.6), textcoords="data",
             fontsize=11, ha="center", va="center", color=TXT, zorder=7,
             arrowprops=dict(arrowstyle="-|>", color="#1A1A1A", lw=1.0, shrinkA=7,
                             shrinkB=0, mutation_scale=12,
                             connectionstyle="arc3,rad=-0.3"))

ftext(64, 808, "C", fontsize=31, fontweight="bold", va="center", ha="left", color="#111111")
ftext(18, 1041, "GR (API)", fontsize=12, rotation=90, ha="center", va="center",
      color="#E46C0A")
ftext(18, 998, "/", fontsize=12, rotation=90, ha="center", va="center", color="#333333")
ftext(18, 922, "Sed Rate (cm/kyr)", fontsize=12, rotation=90, ha="center", va="center",
      color="#E31A1C")
ftext(1180, 885, "GR (API)", fontsize=12, rotation=270, ha="center", va="center",
      color="#2E3192")
ftext(1192, 1072, "Eccentricity", fontsize=12, rotation=270, ha="center", va="center")
ftext(595, 1173, "Time (ka) \u2192", fontsize=12, ha="center", va="center")

# ------------------------------------------------------------------
# Panel D
# ------------------------------------------------------------------
axD = add_ax(55, 1198, 524, 1480)
freq_d = np.concatenate([0.0002 * np.arange(len(spec_d_low)),
                         0.0125 + 0.0005 * np.arange(len(spec_d_high))])
spec_d = np.array(spec_d_low + spec_d_high, float)
axD.plot(conf_f, conf_green, color="#70AD47", lw=2.0, ls=(0, (5, 4)), zorder=3)
axD.plot(conf_f, conf_blue, color="#5B9BD5", lw=2.0, ls=(0, (5, 4)), zorder=3)
axD.plot(conf_f, conf_yellow, color="#FFC000", lw=2.0, ls=(0, (5, 4)), zorder=3)
sline(axD, conf_f, conf_gray, "#A6A6A6", lw=1.6, z=3)
sline(axD, freq_d, spec_d, "#E8620E", lw=1.6, z=4)
for lab, pf, ef, ep, tf in zip(d_labels, d_peak_f, d_elbow_f, d_elbow_p, d_text_f):
    pp = spec_d[np.argmin(np.abs(freq_d - pf))]
    axD.plot([pf, ef, tf], [pp, ep, ep], color="#1A1A1A", lw=0.9, zorder=5)
    axD.text(tf + 0.0002, ep, lab, fontsize=11, ha="left", va="center", color=TXT, zorder=6)
axD.set_xlim(0, 0.05)
axD.set_ylim(0, 18000)
style(axD, d_xticks, d_xlabels, d_yticks, [str(t) for t in d_yticks])

ftext(64, 1177, "D", fontsize=31, fontweight="bold", va="center", ha="left", color="#111111")
ftext(5, 1360, "Power", fontsize=12, rotation=90, ha="center", va="center")
ftext(290, 1512, "Frequency (cycles/ka) \u2192", fontsize=12, ha="center", va="center")

# ------------------------------------------------------------------
# overlay stamp
# ------------------------------------------------------------------
ftext(560, 940, "Preprint not peer reviewed", fontsize=135, rotation=55, ha="center",
      va="center", color="#A0A0A0", alpha=0.22, zorder=50)

fig.savefig("out.png", dpi=100)
